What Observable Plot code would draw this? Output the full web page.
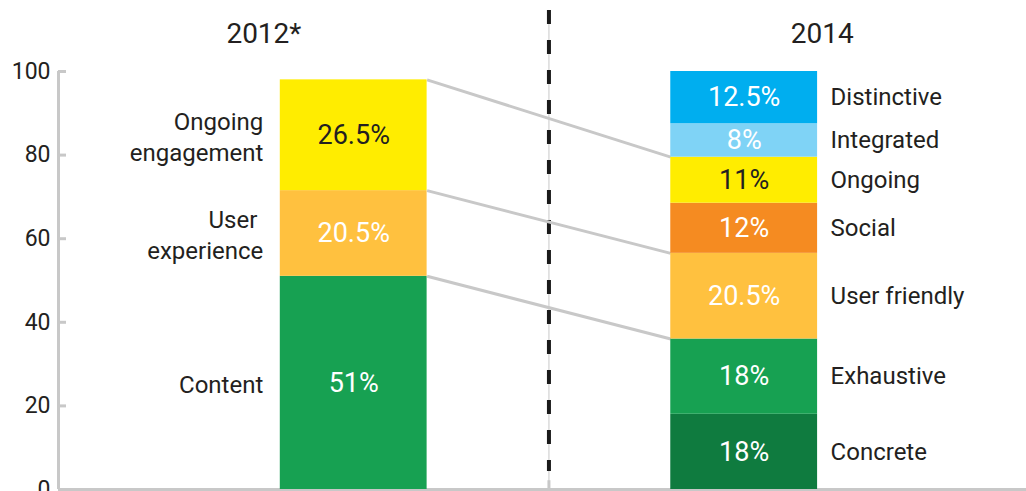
<!DOCTYPE html>
<html>
<head>
<meta charset="utf-8">
<script src="https://cdn.jsdelivr.net/npm/d3@7"></script>
<script src="https://cdn.jsdelivr.net/npm/@observablehq/plot@0.6"></script>
<style>
  body { margin: 0; background: #fff; }
  #chart svg { display: block; }
</style>
</head>
<body>
<div id="chart"></div>
<script>
// Column headings
const years = ["2012*", "2014"];

// 2012 survey: share of answers per quality (stacked bottom to top)
const categories2012 = ["Content", "User experience", "Ongoing engagement"];
const labels2012 = ["Content", "User\u00a0\nexperience", "Ongoing\nengagement"];
const values2012 = [51, 20.5, 26.5];

// 2014 survey: share of answers per quality (stacked bottom to top)
const categories2014 = ["Concrete", "Exhaustive", "User friendly", "Social", "Ongoing", "Integrated", "Distinctive"];
const values2014 = [18, 18, 20.5, 12, 11, 8, 12.5];

// Which 2012 segment continues into which 2014 segment
const linkFrom = ["Content", "User experience", "Ongoing engagement"];
const linkTo = ["Exhaustive", "User friendly", "Ongoing"];

const yTicks = [0, 20, 40, 60, 80, 100];

// Styling
const fills = {
  "Content": "#17a152",
  "User experience": "#ffc13f",
  "Ongoing engagement": "#ffed00",
  "Concrete": "#0f7b3f",
  "Exhaustive": "#17a152",
  "User friendly": "#ffc13f",
  "Social": "#f58b21",
  "Ongoing": "#ffed00",
  "Integrated": "#7fd3f6",
  "Distinctive": "#00aeef"
};
const darkText = "#231f20";
const onYellow = new Set(["Ongoing engagement", "Ongoing"]);
const grey = "#c8c8c8";

const xMin = 0.244, xMax = 2.723;         // horizontal extent of the plot frame
const halfBar = 0.188;                     // half the bar width in x units
const pxX = (xMax - xMin) / (1026 - 58);   // one pixel in x units

function stack(categories, values, column, labels) {
  let acc = 0;
  return categories.map((c, i) => {
    const y1 = acc;
    acc += values[i];
    return {column, category: c, label: labels ? labels[i] : c, value: values[i], y1, y2: acc};
  });
}

const seg2012 = stack(categories2012, values2012, 1, labels2012);
const seg2014 = stack(categories2014, values2014, 2);
const segments = seg2012.concat(seg2014);

const links = linkFrom.map((from, i) => ({
  from: seg2012.find(d => d.category === from),
  to: seg2014.find(d => d.category === linkTo[i])
}));

const font = "Roboto, 'Noto Sans', sans-serif";

const chart = Plot.plot({
  width: 1026,
  height: 491,
  marginLeft: 58,
  marginRight: 0,
  marginTop: 71,
  marginBottom: 2,
  x: {type: "linear", domain: [xMin, xMax], axis: null},
  y: {domain: [0, 100], axis: null},
  style: {fontFamily: font, background: "#fff", overflow: "visible"},
  marks: [
    // baseline and vertical axis
    Plot.ruleY([0], {stroke: grey, strokeWidth: 3}),
    Plot.ruleX([xMin], {y1: 0, y2: 100, stroke: grey, strokeWidth: 3}),
    Plot.ruleY(yTicks.filter(d => d > 0), {y: d => d, x1: xMin, x2: xMin + 8 * pxX, stroke: grey, strokeWidth: 3}),
    Plot.text(yTicks, {x: xMin, y: d => d, text: d => String(d), dx: -8, textAnchor: "end", fontSize: 23, fill: darkText}),

    // divider between the two years
    Plot.ruleX([1.5], {y1: 114.6, y2: 0, stroke: grey, strokeWidth: 1}),
    Plot.ruleX([1.5], {y1: 114.6, y2: 4.3, stroke: "#1a1a1a", strokeWidth: 4, strokeDasharray: "14,16"}),
    Plot.ruleX([1.5], {y1: 2.1, y2: 0, stroke: grey, strokeWidth: 3}),

    // connectors between matching segments
    Plot.link(links, {
      x1: 1 + halfBar, y1: d => d.from.y2,
      x2: 2 - halfBar, y2: d => d.to.y2,
      stroke: grey, strokeWidth: 3
    }),

    // stacked bars
    Plot.rect(segments, {
      x1: d => d.column - halfBar, x2: d => d.column + halfBar,
      y1: "y1", y2: "y2",
      fill: d => fills[d.category]
    }),

    // values inside the segments
    Plot.text(segments, {
      x: "column", y: d => (d.y1 + d.y2) / 2,
      text: d => `${d.value}%`,
      fill: d => onYellow.has(d.category) ? darkText : "#fff",
      fontSize: 27
    }),

    // category names: left of 2012, right of 2014
    Plot.text(seg2012, {
      x: d => d.column - halfBar, y: d => (d.y1 + d.y2) / 2,
      text: "label", dx: -17, textAnchor: "end",
      lineHeight: 1.3, fontSize: 24, fill: darkText
    }),
    Plot.text(seg2014, {
      x: d => d.column + halfBar, y: d => (d.y1 + d.y2) / 2,
      text: "label", dx: 13, textAnchor: "start",
      fontSize: 24, fill: darkText
    }),

    // year headings
    Plot.text(years, {
      x: [0.77, 2.2], frameAnchor: "top", dy: -48,
      text: d => d, fontSize: 28, fill: darkText
    })
  ]
});

document.getElementById("chart").appendChild(chart);
</script>
</body>
</html>
